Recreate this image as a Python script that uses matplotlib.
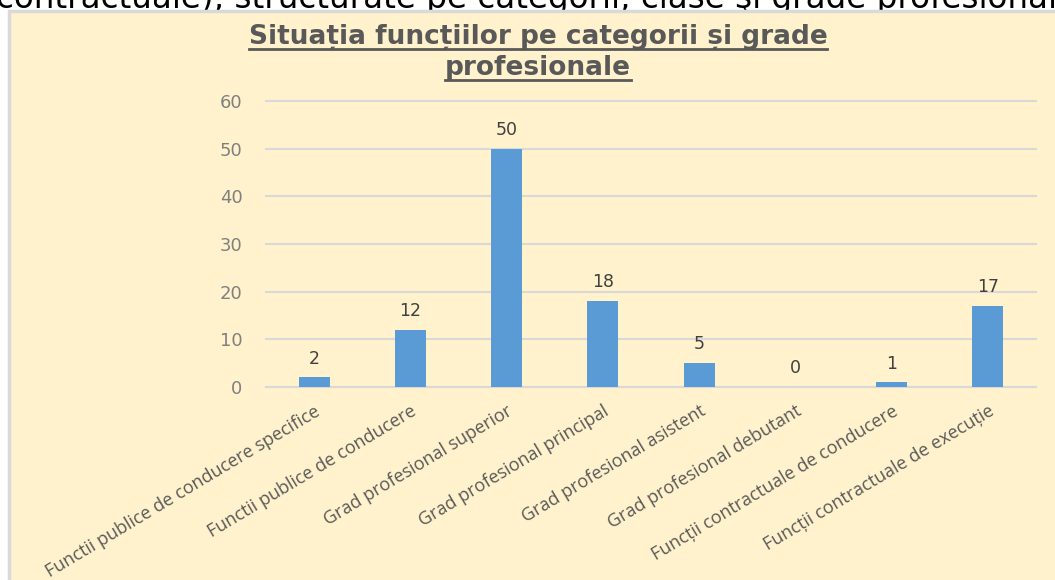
import matplotlib.pyplot as plt
import numpy as np
from matplotlib.lines import Line2D
from matplotlib.patches import Rectangle

categories = [
    "Functii publice de conducere specifice",
    "Functii publice de conducere",
    "Grad profesional superior",
    "Grad profesional principal",
    "Grad profesional asistent",
    "Grad profesional debutant",
    "Funcții contractuale de conducere",
    "Funcții contractuale de execuție",
]
values = [2, 12, 50, 18, 5, 0, 1, 17]
yticks = [0, 10, 20, 30, 40, 50, 60]

title_lines = ["Situația funcțiilor pe categorii și grade", "profesionale"]
header_text = "contractuale), structurate pe categorii, clase şi grade profesionale"

W, H = 1055, 580
fig = plt.figure(figsize=(W / 100, H / 100), dpi=100)
fig.patch.set_facecolor("white")

# cut-off text from the document above the chart
fig.text(-4 / W, 1 - 8 / H, header_text, fontsize=23.5, color="black",
         family="DejaVu Sans", va="baseline", ha="left", zorder=1)

# chart box
box = Rectangle(
    (9 / W, -0.05), 1.1, (H - 11) / H + 0.05,
    transform=fig.transFigure, facecolor="#FFF2CC", edgecolor="#D9D9D9",
    lw=2.5, zorder=2,
)
fig.add_artist(box)

ax = fig.add_axes([266 / W, 1 - 387 / H, (1036 - 266) / W, (387 - 101) / H])
ax.set_facecolor("none")
ax.set_zorder(5)

x = np.arange(len(categories))
ax.bar(x, values, width=0.32, color="#5B9BD5", zorder=3)

for xi, v in zip(x, values):
    ax.annotate(str(v), (xi, v), xytext=(0, 7), textcoords="offset points",
                ha="center", va="bottom", fontsize=12.5, color="#404040",
                family="DejaVu Sans")

ax.set_xlim(-0.5, len(categories) - 0.5)
ax.set_ylim(0, 60)
ax.set_yticks(yticks)
ax.yaxis.grid(True, color="#D9D9D9", lw=1.5, zorder=0)
for gl in ax.get_ygridlines():
    gl.set_clip_on(False)
for s in ["top", "right", "left"]:
    ax.spines[s].set_visible(False)
ax.spines["bottom"].set_color("#D9D9D9")
ax.spines["bottom"].set_linewidth(1.5)
ax.tick_params(axis="both", length=0)
ax.tick_params(axis="y", pad=17, labelsize=13, labelcolor="#808080")
for lab in ax.get_yticklabels():
    lab.set_family("DejaVu Sans")

ax.set_xticks(x)
ax.set_xticklabels(categories, rotation=31, ha="right", va="top",
                   rotation_mode="anchor", fontsize=13, color="#595959",
                   family="Open Sans")
ax.tick_params(axis="x", pad=11)

# title, two lines, underlined
title_y = [1 - 44 / H, 1 - 75 / H]
texts = []
for line, ty in zip(title_lines, title_y):
    t = fig.text(538 / W, ty, line, fontsize=19, fontweight="bold",
                 color="#595959", ha="center", va="baseline",
                 family="DejaVu Sans", zorder=6)
    texts.append(t)

fig.canvas.draw()
renderer = fig.canvas.get_renderer()
inv = fig.transFigure.inverted()
for t in texts:
    bb = t.get_window_extent(renderer)
    (x0, _), (x1, _) = inv.transform([(bb.x0, 0), (bb.x1, 0)])
    _, yb = t.get_position()
    yl = yb - 5 / H
    fig.add_artist(Line2D([x0, x1], [yl, yl], transform=fig.transFigure,
                          color="#595959", lw=2, zorder=6))

fig.savefig("out.png", dpi=100, facecolor=fig.get_facecolor())
